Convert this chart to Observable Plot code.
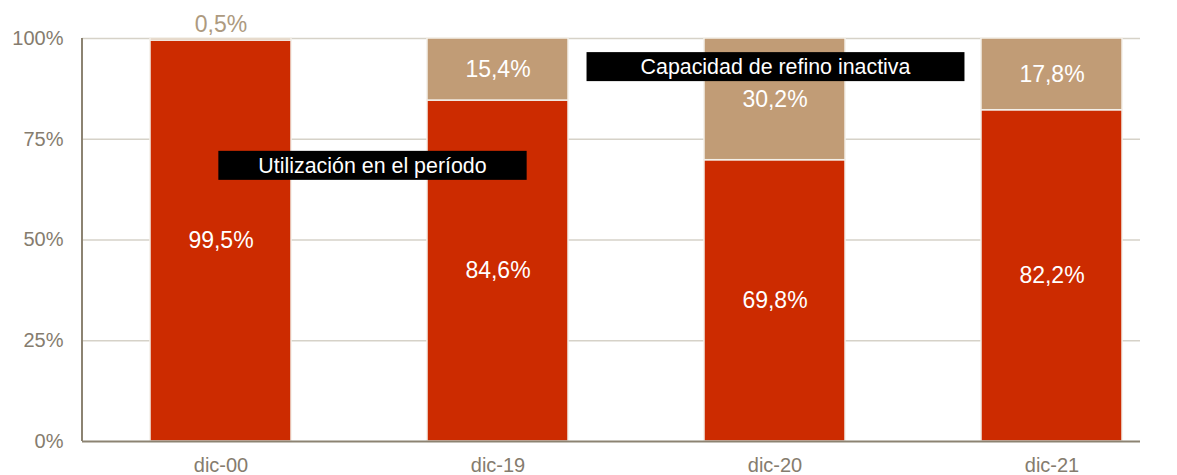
<!DOCTYPE html>
<html><head><meta charset="utf-8">
<script src="https://cdn.jsdelivr.net/npm/d3@7"></script>
<script src="https://cdn.jsdelivr.net/npm/@observablehq/plot@0.6"></script>
<style>
body{margin:0;background:#fff;font-family:"Liberation Sans",Arial,sans-serif;}
#chart svg{display:block;}
</style></head>
<body><div id="chart"></div>
<script>
const categories = ["dic-00","dic-19","dic-20","dic-21"];
const utilizacion = [99.5, 84.6, 69.8, 82.2];
const inactiva = [0.5, 15.4, 30.2, 17.8];
const yTicks = [0, 25, 50, 75, 100];
const seriesNames = ["Utilización en el período", "Capacidad de refino inactiva"];
const seriesColors = ["#cc2b00", "#c19c76"];
const notes = [
  {text: "Utilización en el período", cat: "dic-00", y: 68.4, dx: 152, padX: 40},
  {text: "Capacidad de refino inactiva", cat: "dic-20", y: 92.9, dx: 1, padX: 54}
];

const fmt = v => v.toFixed(1).replace(".", ",") + "%";
const rows = [];
categories.forEach((c, i) => {
  rows.push({cat: c, series: seriesNames[0], y1: 0, y2: utilizacion[i], v: utilizacion[i]});
  rows.push({cat: c, series: seriesNames[1], y1: utilizacion[i], y2: utilizacion[i] + inactiva[i], v: inactiva[i]});
});
const inside = rows.filter(d => d.v >= 5);
const outside = rows.filter(d => d.v < 5);

const axisCol = "#8c8372";
const textCol = "#857c6e";
const font = '"Liberation Sans", Arial, sans-serif';

const plot = Plot.plot({
  width: 1177, height: 475,
  marginLeft: 82, marginRight: 37, marginTop: 38, marginBottom: 34,
  style: {fontFamily: font, background: "#fff"},
  x: {domain: categories, range: [82, 1190], paddingInner: 0.49, paddingOuter: 0.245, align: 0.5, axis: null, label: null},
  y: {domain: [0, 100], axis: null},
  color: {domain: seriesNames, range: seriesColors},
  marks: [
    Plot.ruleY(yTicks.filter(t => t > 0), {y: d => d, stroke: "#d6d2c8", strokeWidth: 1.5}),
    Plot.barY(rows, {x: "cat", y1: "y1", y2: "y2", fill: "series", stroke: "#f3efe9", strokeWidth: 1.5}),
    Plot.axisY(yTicks, {tickFormat: d => d + "%", tickSize: 0, tickPadding: 19, fontSize: 20, fill: textCol, label: null}),
    Plot.axisX({tickSize: 0, tickPadding: 16, fontSize: 20, fill: textCol, label: null}),
    Plot.ruleY([0], {stroke: axisCol, strokeWidth: 2}),
    Plot.text(inside, {x: "cat", y: d => (d.y1 + d.y2) / 2, text: d => fmt(d.v), fill: "#fff", fontSize: 23}),
    Plot.text(outside, {x: "cat", y: "y2", dy: -14, text: d => fmt(d.v), fill: "#ad9a80", fontSize: 23})
  ]
});
document.getElementById("chart").appendChild(plot);

const svg = d3.select(plot);
const xS = plot.scale("x");
const yS = plot.scale("y");
// left axis line along the frame
svg.append("line").attr("x1", 82).attr("x2", 82).attr("y1", yS.apply(100)).attr("y2", yS.apply(0))
  .attr("stroke", axisCol).attr("stroke-width", 2);

// annotation labels with black boxes, anchored to data positions
const g = svg.append("g");
notes.forEach(n => {
  const cx = xS.apply(n.cat) + xS.bandwidth / 2 + n.dx;
  const cy = yS.apply(n.y);
  const box = g.append("rect").attr("fill", "#000");
  const t = g.append("text").attr("x", cx).attr("y", cy).attr("dy", "0.35em")
    .attr("text-anchor", "middle").attr("fill", "#fff")
    .attr("font-family", font).attr("font-size", 21.4).text(n.text);
  const w = t.node().getComputedTextLength();
  box.attr("x", cx - w / 2 - n.padX).attr("y", cy - 14.5).attr("width", w + 2 * n.padX).attr("height", 29);
});
</script></body></html>
